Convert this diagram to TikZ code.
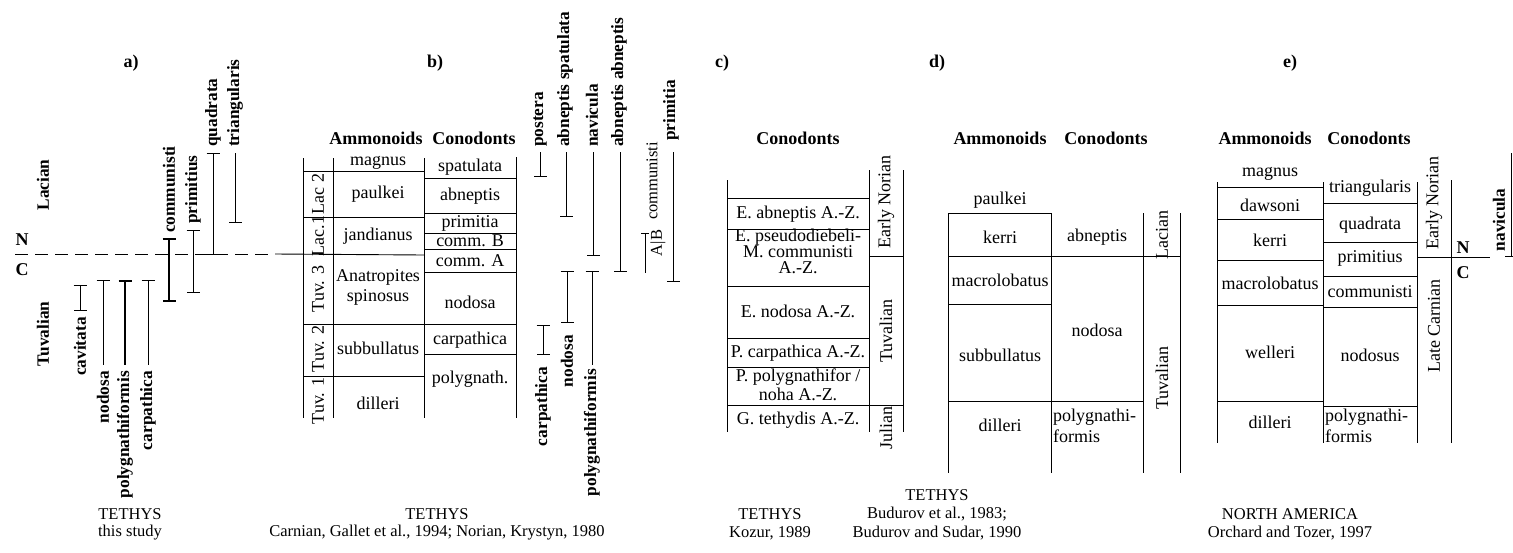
\documentclass[tikz,border=0pt]{standalone}
\usepackage{fontspec}
\setmainfont{Liberation Serif}
\usetikzlibrary{arrows.meta}
\begin{document}
\begin{tikzpicture}[x=1pt,y=-1pt,
  every node/.style={inner sep=0pt, font=\fontsize{18}{20}\selectfont},
  tl/.style={line width=0.9pt},
  rng/.style={line width=1pt},
  thn/.style={line width=0.6pt},
  thk/.style={line width=1.8pt},
  dsh/.style={line width=0.9pt, dash pattern=on 13pt off 7pt},
  hd/.style={font=\fontsize{18}{20}\selectfont\bfseries},
  rl/.style={rotate=90, font=\fontsize{17.3}{19}\selectfont\bfseries},
  sl/.style={rotate=90},
  sm/.style={font=\fontsize{16.5}{18}\selectfont},
  cp/.style={font=\fontsize{16.5}{18}\selectfont},
  bb/.style={{Bar[width=13pt]}-{Bar[width=13pt]}},
  tb/.style={{Bar[width=13pt]}-},
  eb/.style={-{Bar[width=13pt]}}
]
\path[use as bounding box] (0,0) rectangle (1513,552);

% ---------------- panel a ----------------
\node[hd] (pa) at (131,63) {a)};
\node[hd] (na) at (22,240) {N};
\node[hd] (ca) at (22,270) {C};
\node[rl] (laca) at (43,185) {Lacian};
\node[rl] (tuva) at (43,334) {Tuvalian};
\coordinate (dl) at (15,254);
\coordinate (dr) at (275,254);
\draw[dsh] (dl) -- (dr);

\draw[thn,bb] (80,285) -- (80,311);
\node[rl,anchor=east] (cav) at (80,317) {cavitata};
\draw[rng,tb] (103,280) -- (103,365);
\node[rl,anchor=east] (noda) at (103,371) {nodosa};
\draw[thk,tb] (125,280) -- (125,365);
\node[rl,anchor=east] (polya) at (125,371) {polygnathiformis};
\draw[rng,tb] (148,280) -- (148,365);
\node[rl,anchor=east] (carpa) at (148,371) {carpathica};
\draw[thk,bb] (169,238) -- (169,302);
\node[rl,anchor=west] (comma) at (169,233) {communisti};
\draw[thn,bb] (193,230) -- (193,293);
\node[rl,anchor=west] (prima) at (193,224) {primitius};
\draw[rng,bb] (213,153) -- (213,255);
\node[rl,anchor=west] (quada) at (213,147) {quadrata};
\draw[rng,eb] (235,153) -- (235,223);
\node[rl,anchor=west] (tria) at (235,147) {triangularis};

\node[cp] (capa1) at (130,514) {TETHYS};
\node[cp] (capa2) at (130,533) {this study};

% ---------------- panel b ----------------
\node[hd] (pb) at (435,63) {b)};
\node[hd] (hb1) at (376,138) {Ammonoids};
\node[hd] (hb2) at (474,138) {Conodonts};
\draw[tl] (303,158) -- (303,418);
\draw[tl] (333,158) -- (333,418);
\draw[tl] (424,158) -- (424,418);
\draw[tl] (516,157) -- (516,418);
\draw[tl] (303,171) -- (424,171);
\draw[tl] (303,217) -- (424,217);
\draw[tl] (dr) -- (424,255);
\draw[tl] (303,324) -- (516,324);
\draw[tl] (303,376) -- (424,376);
\draw[tl] (424,178) -- (516,178);
\draw[tl] (424,213) -- (516,213);
\draw[tl] (424,233) -- (516,233);
\draw[tl] (424,249) -- (516,249);
\draw[tl] (424,272) -- (516,272);
\draw[tl] (424,354) -- (516,354);

\node[sl] (lac2) at (318,194) {Lac 2};
\node[sl] (lac1) at (318,236) {Lac.1};
\node[sl] (tuv3) at (318,289) {Tuv. 3};
\node[sl] (tuv2) at (318,349) {Tuv. 2};
\node[sl] (tuv1) at (318,401) {Tuv. 1};

\node (bm) at (378,163) {magnus};
\node (bp) at (378,194) {paulkei};
\node (bj) at (378,236) {jandianus};
\node (ba1) at (378,277) {Anatropites};
\node (ba2) at (378,297) {spinosus};
\node (bs) at (378,348) {subbullatus};
\node (bd) at (378,403) {dilleri};

\node (cs) at (470,167) {spatulata};
\node (ca2) at (470,196) {abneptis};
\node (cp1) at (470,223) {primitia};
\node (ccb) at (470,241) {comm. B};
\node (cca) at (470,261) {comm. A};
\node (cn) at (470,302) {nodosa};
\node (cc) at (470,340) {carpathica};
\node (cpg) at (470,379) {polygnath.};

\draw[rng,eb] (540,152) -- (540,177);
\node[rl,anchor=west] (post) at (540,147) {postera};
\draw[rng,eb] (566,152) -- (566,217);
\node[rl,anchor=west] (abspa) at (565,147) {abneptis spatulata};
\draw[thn,eb] (593,152) -- (593,256);
\node[rl,anchor=west] (navb) at (592,147) {navicula};
\draw[rng,eb] (620,152) -- (620,272);
\node[rl,anchor=west] (abab) at (619,147) {abneptis abneptis};
\draw[rng,{Bar[width=8pt]}-] (645,233) -- (645,273);
\node[sl,sm] (ab) at (658,243) {A|B};
\node[sl,sm,anchor=west] (commb) at (652,220) {communisti};
\draw[rng,eb] (673,152) -- (673,282);
\node[rl,anchor=west] (primb) at (671,141) {primitia};

\draw[rng,bb] (543,325) -- (543,355);
\node[rl,anchor=east] (carpb) at (543,367) {carpathica};
\draw[rng,bb] (567,271) -- (567,323);
\node[rl,anchor=east] (nodb) at (567,335) {nodosa};
\draw[rng,tb] (592,271) -- (592,365);
\node[rl,anchor=east] (polyb) at (592,369) {polygnathiformis};

\node[cp] (capb1) at (437,514) {TETHYS};
\node[cp] (capb2) at (437,533) {Carnian, Gallet et al., 1994; Norian, Krystyn, 1980};

% ---------------- panel c ----------------
\node[hd] (pc) at (722,63) {c)};
\node[hd] (hc) at (798,138) {Conodonts};
\draw[tl] (727,180) -- (727,432);
\draw[tl] (869,170) -- (869,432);
\draw[tl] (903,170) -- (903,432);
\draw[tl] (727,198) -- (869,198);
\draw[tl] (727,229) -- (869,229);
\draw[tl] (727,286) -- (869,286);
\draw[tl] (727,338) -- (869,338);
\draw[tl] (727,367) -- (869,367);
\draw[tl] (727,405) -- (903,405);
\draw[tl] (869,256) -- (903,256);
\node (c1) at (798,214) {E. abneptis A.-Z.};
\node (c2a) at (798,237) {E. pseudodiebeli-};
\node (c2b) at (798,252) {M. communisti};
\node (c2c) at (798,268) {A.-Z.};
\node (c3) at (798,311) {E. nodosa A.-Z.};
\node (c4) at (798,353) {P. carpathica A.-Z.};
\node (c5a) at (798,377) {P. polygnathifor /};
\node (c5b) at (798,394) {noha A.-Z.};
\node (c6) at (798,420) {G. tethydis A.-Z.};
\node[sl] (cen) at (886,202) {Early Norian};
\node[sl] (ctu) at (886,331) {Tuvalian};
\node[sl] (cju) at (886,428) {Julian};
\node[cp] (capc1) at (770,514) {TETHYS};
\node[cp] (capc2) at (770,533) {Kozur, 1989};

% ---------------- panel d ----------------
\node[hd] (pd) at (937,63) {d)};
\node[hd] (hd1) at (1000,138) {Ammonoids};
\node[hd] (hd2) at (1106,138) {Conodonts};
\draw[tl] (948,213) -- (948,473);
\draw[tl] (1051,213) -- (1051,473);
\draw[tl] (1143,213) -- (1143,473);
\draw[tl] (1180,213) -- (1180,473);
\draw[tl] (948,213) -- (1051,213);
\draw[tl] (948,256) -- (1180,256);
\draw[tl] (948,304) -- (1051,304);
\draw[tl] (948,401) -- (1143,401);
\node (d1) at (1000,200) {paulkei};
\node (d2) at (1000,237) {kerri};
\node (d3) at (1000,280) {macrolobatus};
\node (d4) at (1000,355) {subbullatus};
\node (d5) at (1000,425) {dilleri};
\node (d6) at (1097,237) {abneptis};
\node (d7) at (1097,330) {nodosa};
\node[anchor=west] (d8) at (1053,417) {polygnathi-};
\node[anchor=west] (d9) at (1053,436) {formis};
\node[sl] (dla) at (1162,235) {Lacian};
\node[sl] (dtu) at (1162,378) {Tuvalian};
\node[cp] (capd1) at (937,495) {TETHYS};
\node[cp] (capd2) at (937,514) {Budurov et al., 1983;};
\node[cp] (capd3) at (937,533) {Budurov and Sudar, 1990};

% ---------------- panel e ----------------
\node[hd] (pe) at (1290,63) {e)};
\node[hd] (he1) at (1265,138) {Ammonoids};
\node[hd] (he2) at (1369,138) {Conodonts};
\draw[tl] (1217,182) -- (1217,443);
\draw[tl] (1323,182) -- (1323,443);
\draw[tl] (1417,182) -- (1417,443);
\draw[tl] (1451,180) -- (1451,443);
\draw[tl] (1217,187) -- (1323,187);
\draw[tl] (1217,219) -- (1323,219);
\draw[tl] (1217,260) -- (1323,260);
\draw[tl] (1217,305) -- (1323,305);
\draw[tl] (1217,401) -- (1323,401);
\draw[tl] (1323,203) -- (1417,203);
\draw[tl] (1323,242) -- (1417,242);
\draw[tl] (1323,276) -- (1417,276);
\draw[tl] (1323,307) -- (1417,307);
\draw[tl] (1323,406) -- (1417,406);
\draw[tl] (1417,257) -- (1490,257);
\node (e1) at (1270,174) {magnus};
\node (e2) at (1270,205) {dawsoni};
\node (e3) at (1270,240) {kerri};
\node (e4) at (1270,283) {macrolobatus};
\node (e5) at (1270,352) {welleri};
\node (e6) at (1270,422) {dilleri};
\node (e7) at (1370,188) {triangularis};
\node (e8) at (1370,225) {quadrata};
\node (e9) at (1370,258) {primitius};
\node (e10) at (1370,292) {communisti};
\node (e11) at (1370,355) {nodosus};
\node[anchor=west] (e12) at (1325,417) {polygnathi-};
\node[anchor=west] (e13) at (1325,436) {formis};
\node[sl] (een) at (1434,203) {Early Norian};
\node[sl] (elc) at (1434,326) {Late Carnian};
\node[hd] (ne) at (1463,248) {N};
\node[hd] (ce) at (1463,273) {C};
\draw[rng,eb] (1511,153) -- (1511,257);
\node[rl] (nave) at (1499,220) {navicula};
\node[cp] (cape1) at (1290,514) {NORTH AMERICA};
\node[cp] (cape2) at (1290,533) {Orchard and Tozer, 1997};
\end{tikzpicture}
\end{document}
